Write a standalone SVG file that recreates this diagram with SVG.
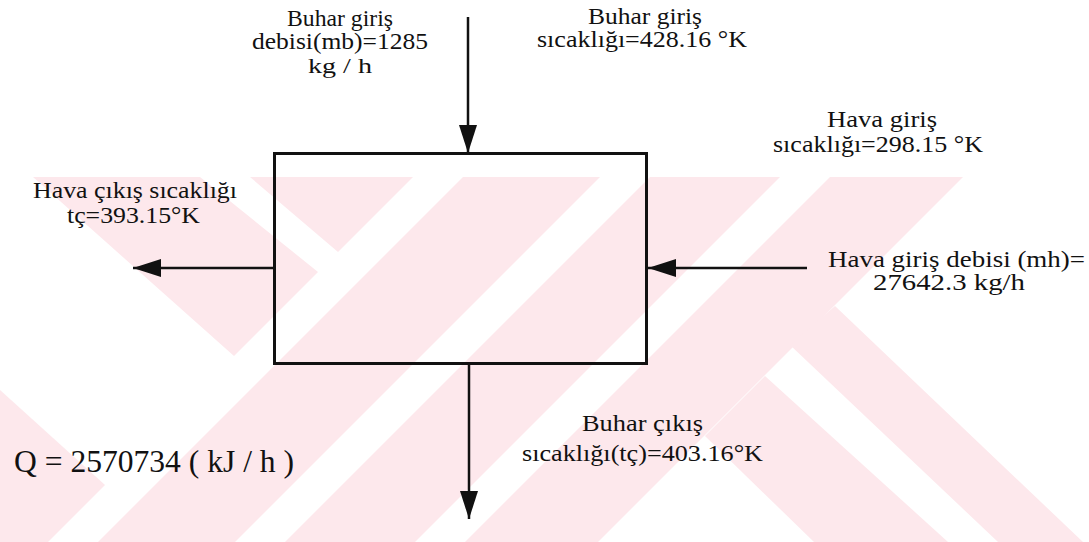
<svg xmlns="http://www.w3.org/2000/svg" width="1089" height="542" viewBox="0 0 1089 542">
<style>
.t{font-family:"Liberation Serif","Times New Roman",serif;font-size:23px;fill:#111}
.q{font-family:"Liberation Serif","Times New Roman",serif;font-size:31px;fill:#111}
.ln{stroke:#111;stroke-width:2.5;fill:none}
.wm{fill:#fde8ec}
</style>
<defs>
<marker id="ah" markerUnits="userSpaceOnUse" markerWidth="28" markerHeight="18" refX="28" refY="9" orient="auto">
<path d="M0,0 L28,9 L0,18 z" fill="#111"/>
</marker>
</defs>
<rect width="1089" height="542" fill="#fff"/>
<g id="watermark">
<polygon class="wm" points="33,177 200,177 318,272 234,356"/>
<polygon class="wm" points="250,177 413,177 338,252"/>
<polygon class="wm" points="463,177 600,177 235,542 98,542"/>
<polygon class="wm" points="650,177 780,177 415,542 285,542"/>
<polygon class="wm" points="830,177 963,177 598,542 465,542"/>
<polygon class="wm" points="0,390 105,485 48,542 0,542"/>
<polygon class="wm" points="835,306 790,345 998,542 1083,542"/>
<polygon class="wm" points="765,376 705,436 814,542 948,542"/>
</g>
<g id="connectors">
<line class="ln" x1="468" y1="17" x2="468" y2="153" marker-end="url(#ah)"/>
<line class="ln" x1="274" y1="268" x2="133" y2="268" marker-end="url(#ah)"/>
<line class="ln" x1="807" y1="268" x2="648" y2="268" marker-end="url(#ah)"/>
<line class="ln" x1="469" y1="364" x2="469" y2="519" marker-end="url(#ah)"/>
</g>
<g id="exchanger">
<rect x="274.5" y="153.5" width="372" height="210" fill="none" stroke="#111" stroke-width="3"/>
</g>
<g id="steam-in-flow">
<text class="t" x="287" y="26" textLength="106" lengthAdjust="spacingAndGlyphs">Buhar giriş</text>
<text class="t" x="252" y="49" textLength="176" lengthAdjust="spacingAndGlyphs">debisi(mb)=1285</text>
<text class="t" x="308" y="73" textLength="64" lengthAdjust="spacingAndGlyphs" style="font-size:22px">kg / h</text>
</g>
<g id="steam-in-temp">
<text class="t" x="588" y="24" textLength="114" lengthAdjust="spacingAndGlyphs">Buhar giriş</text>
<text class="t" x="537" y="47" textLength="210" lengthAdjust="spacingAndGlyphs">sıcaklığı=428.16 °K</text>
</g>
<g id="air-in-temp">
<text class="t" x="827" y="127" textLength="110" lengthAdjust="spacingAndGlyphs">Hava giriş</text>
<text class="t" x="773" y="152" textLength="210" lengthAdjust="spacingAndGlyphs">sıcaklığı=298.15 °K</text>
</g>
<g id="air-out-temp">
<text class="t" x="33" y="198" textLength="204" lengthAdjust="spacingAndGlyphs">Hava çıkış sıcaklığı</text>
<text class="t" x="67" y="223" textLength="133" lengthAdjust="spacingAndGlyphs">tç=393.15°K</text>
</g>
<g id="air-in-flow">
<text class="t" x="828" y="267" textLength="257" lengthAdjust="spacingAndGlyphs">Hava giriş debisi (mh)=</text>
<text class="t" x="873" y="290" textLength="152" lengthAdjust="spacingAndGlyphs">27642.3 kg/h</text>
</g>
<g id="steam-out-temp">
<text class="t" x="582" y="431" textLength="121" lengthAdjust="spacingAndGlyphs">Buhar çıkış</text>
<text class="t" x="522" y="461" textLength="241" lengthAdjust="spacingAndGlyphs">sıcaklığı(tç)=403.16°K</text>
</g>
<g id="heat-load">
<text class="q" x="14" y="472" textLength="280" lengthAdjust="spacingAndGlyphs">Q = 2570734 ( kJ / h )</text>
</g>
</svg>
